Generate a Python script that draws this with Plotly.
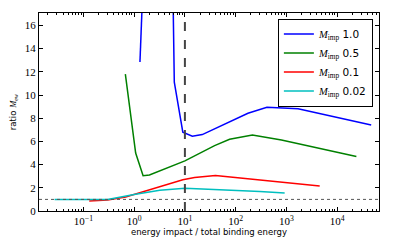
import plotly.graph_objects as go

# ---- data ----
blue_x = [1.3, 1.43, None, 5.88, 6.18, 9.1, 14, 22, 76, 175, 414, 1700, 47000]
blue_y = [12.84, 17.5, None, 17.5, 11.1, 6.79, 6.45, 6.59, 7.70, 8.43, 8.94, 8.82, 7.42]

green_x = [0.67, 1.07, 1.5, 2.0, 10, 38.5, 76, 214, 800, 24000]
green_y = [11.8, 5.0, 3.04, 3.1, 4.32, 5.64, 6.19, 6.56, 6.13, 4.69]

red_x = [0.13, 0.3, 0.68, 1.28, 9.1, 15.5, 40, 4540]
red_y = [0.87, 0.95, 1.2, 1.55, 2.69, 2.89, 3.06, 2.15]

cyan_x = [0.027, 0.3, 1.0, 3.2, 10, 100, 300, 925]
cyan_y = [1.0, 1.0, 1.42, 1.78, 1.96, 1.8, 1.68, 1.55]

labels = ["1.0", "0.5", "0.1", "0.02"]
colors = ["#0000ff", "#008000", "#ff0000", "#00bfbf"]

x_tick_vals = [0.1, 1, 10, 100, 1000, 10000]
x_tick_text = ["10<sup>\u22121</sup>", "10<sup>0</sup>", "10<sup>1</sup>",
               "10<sup>2</sup>", "10<sup>3</sup>", "10<sup>4</sup>"]
y_tick_vals = [0, 2, 4, 6, 8, 10, 12, 14, 16]

vline_x = 10
hline_y = 1

SERIF = "Liberation Serif"
SANS = "DejaVu Sans"

def leg_name(v):
    return (f"<span style='font-family:{SERIF}'><i>M</i><sub>imp</sub></span>"
            f" {v}")

fig = go.Figure()
for xs, ys, lab, col in [(blue_x, blue_y, labels[0], colors[0]),
                         (green_x, green_y, labels[1], colors[1]),
                         (red_x, red_y, labels[2], colors[2]),
                         (cyan_x, cyan_y, labels[3], colors[3])]:
    fig.add_trace(go.Scatter(x=xs, y=ys, mode="lines", name=leg_name(lab),
                             line=dict(color=col, width=1.5),
                             connectgaps=False))

fig.add_hline(y=hline_y, line=dict(color="#555555", width=1, dash="dot"))
fig.add_vline(x=vline_x, line=dict(color="#444444", width=2, dash="dash"))

fig.update_layout(
    width=399, height=249,
    margin=dict(l=39, r=20, t=13, b=38, autoexpand=False),
    paper_bgcolor="white", plot_bgcolor="white",
    showlegend=True,
    legend=dict(x=0.982, y=0.972, xanchor="right", yanchor="top",
                bordercolor="black", borderwidth=1, bgcolor="white",
                font=dict(family=SANS, size=10.5, color="black"),
                tracegroupgap=0, itemwidth=30),
)
fig.update_xaxes(
    type="log", range=[-1.876, 4.826], automargin=False,
    tickvals=x_tick_vals, ticktext=x_tick_text,
    tickfont=dict(family=SERIF, size=11, color="black"),
    ticks="inside", ticklen=4, tickcolor="black",
    minor=dict(ticks="inside", ticklen=2, tickcolor="black", showgrid=False,
               dtick="D1"),
    showline=True, linecolor="black", linewidth=1, mirror="ticks",
    showgrid=False, zeroline=False,
    title=dict(text="energy impact / total binding energy",
               font=dict(family=SANS, size=8.5, color="black"), standoff=2),
)
fig.update_yaxes(
    range=[0, 17.07], tickvals=y_tick_vals, automargin=False,
    tickfont=dict(family=SERIF, size=11, color="black"),
    ticks="inside", ticklen=4, tickcolor="black",
    showline=True, linecolor="black", linewidth=1, mirror="ticks",
    showgrid=False, zeroline=False,
    title=dict(text=f"ratio <span style='font-family:{SERIF}'><i>M</i><sub>ew</sub></span>",
               font=dict(family=SANS, size=8.5, color="black"), standoff=6),
)

fig.write_html("out.html",
               config={"displayModeBar": False},
               post_script="document.body.style.margin='0';"
                           "document.body.style.overflow='hidden';")
